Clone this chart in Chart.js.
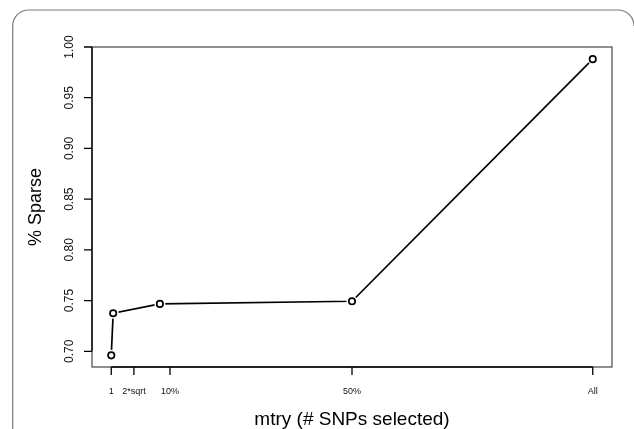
<!DOCTYPE html>
<html>
<head>
<meta charset="utf-8">
<script src="https://cdn.jsdelivr.net/npm/chart.js@4.4.1/dist/chart.umd.min.js"></script>
<style>
  body { margin: 0; background: #fff; }
  #wrap { width: 634px; height: 429px; }
</style>
</head>
<body>
<div id="wrap"><canvas id="grafica" width="634" height="429"></canvas></div>
<script>
/* Datos */
const mtryPos = [0, 0.4, 10.1, 50, 100];           // posicion en el eje x (% de SNPs)
const sparse = [0.696, 0.7375, 0.7467, 0.7493, 0.988]; // % Sparse

const xTickPos = [0, 4.7, 12.2, 50, 100];
const xTickLabels = ['1', '2*sqrt', '10%', '50%', 'All'];
const yTicks = [0.70, 0.75, 0.80, 0.85, 0.90, 0.95, 1.00];

const FONT = '"Liberation Sans", Arial, Helvetica, sans-serif';

let puntos = mtryPos.map((x, i) => ({x: x, y: sparse[i]}));

// Dibuja marco, caja, ejes y titulos al estilo de R
const ejesR = {
    id: 'ejesR',
    afterDraw(chart) {
        const ctx = chart.ctx;
        const a = chart.chartArea;
        const sx = chart.scales.x;
        const sy = chart.scales.y;
        ctx.save();

        // marco redondeado
        ctx.strokeStyle = '#7a7a7a';
        ctx.lineWidth = 1.2;
        ctx.beginPath();
        ctx.moveTo(12.7, 429);
        ctx.lineTo(12.7, 26);
        ctx.arcTo(12.7, 10, 29, 10, 16);
        ctx.lineTo(618, 10);
        ctx.arcTo(634, 10, 634, 26, 16);
        ctx.stroke();

        // caja
        ctx.strokeStyle = '#555';
        ctx.lineWidth = 1.3;
        ctx.strokeRect(a.left, a.top, a.right - a.left, a.bottom - a.top);

        // eje x
        ctx.strokeStyle = '#000';
        ctx.lineWidth = 1.3;
        ctx.beginPath();
        ctx.moveTo(sx.getPixelForValue(xTickPos[0]), a.bottom);
        ctx.lineTo(sx.getPixelForValue(xTickPos[xTickPos.length - 1]), a.bottom);
        xTickPos.forEach(v => {
            let px = sx.getPixelForValue(v);
            ctx.moveTo(px, a.bottom);
            ctx.lineTo(px, a.bottom + 8);
        });
        ctx.stroke();

        ctx.fillStyle = '#111';
        ctx.font = '9px ' + FONT;
        ctx.textAlign = 'center';
        ctx.textBaseline = 'middle';
        xTickPos.forEach((v, i) => {
            ctx.fillText(xTickLabels[i], sx.getPixelForValue(v), a.bottom + 25);
        });

        // eje y
        ctx.beginPath();
        ctx.moveTo(a.left, sy.getPixelForValue(yTicks[0]));
        ctx.lineTo(a.left, sy.getPixelForValue(yTicks[yTicks.length - 1]));
        yTicks.forEach(v => {
            let py = sy.getPixelForValue(v);
            ctx.moveTo(a.left, py);
            ctx.lineTo(a.left - 8, py);
        });
        ctx.stroke();

        ctx.font = '12px ' + FONT;
        yTicks.forEach(v => {
            let py = sy.getPixelForValue(v);
            ctx.save();
            ctx.translate(a.left - 22, py);
            ctx.rotate(-Math.PI / 2);
            ctx.fillText(v.toFixed(2), 0, 0);
            ctx.restore();
        });

        // titulos
        ctx.fillStyle = '#000';
        ctx.font = '19px ' + FONT;
        ctx.fillText('mtry (# SNPs selected)', (a.left + a.right) / 2, 420);
        ctx.font = '18px ' + FONT;
        ctx.save();
        ctx.translate(36, (a.top + a.bottom) / 2);
        ctx.rotate(-Math.PI / 2);
        ctx.fillText('% Sparse', 0, 0);
        ctx.restore();

        ctx.restore();
    }
};

let ctx = document.getElementById('grafica').getContext('2d');
let grafica = new Chart(ctx, {
    type: 'scatter',
    data: {
        datasets: [{
            // circulos
            data: puntos,
            order: 0,
            showLine: false,
            pointRadius: 3.2,
            pointBorderWidth: 1.7,
            pointBorderColor: '#000',
            pointBackgroundColor: '#fff'
        }, {
            // hueco blanco alrededor de cada punto (tipo "b" de R)
            data: puntos,
            order: 1,
            showLine: false,
            pointRadius: 5.5,
            pointBorderWidth: 0,
            pointBorderColor: '#fff',
            pointBackgroundColor: '#fff'
        }, {
            // linea
            data: puntos,
            order: 2,
            showLine: true,
            borderColor: '#000',
            borderWidth: 1.7,
            pointRadius: 0,
            tension: 0
        }]
    },
    options: {
        responsive: false,
        animation: false,
        layout: {
            padding: {left: 92, top: 47, right: 22, bottom: 62}
        },
        plugins: {
            legend: {display: false},
            tooltip: {enabled: false},
            title: {display: false}
        },
        scales: {
            x: {type: 'linear', display: false, min: -4, max: 104},
            y: {type: 'linear', display: false, min: 0.6845, max: 1.0}
        }
    },
    plugins: [ejesR]
});
</script>
</body>
</html>
